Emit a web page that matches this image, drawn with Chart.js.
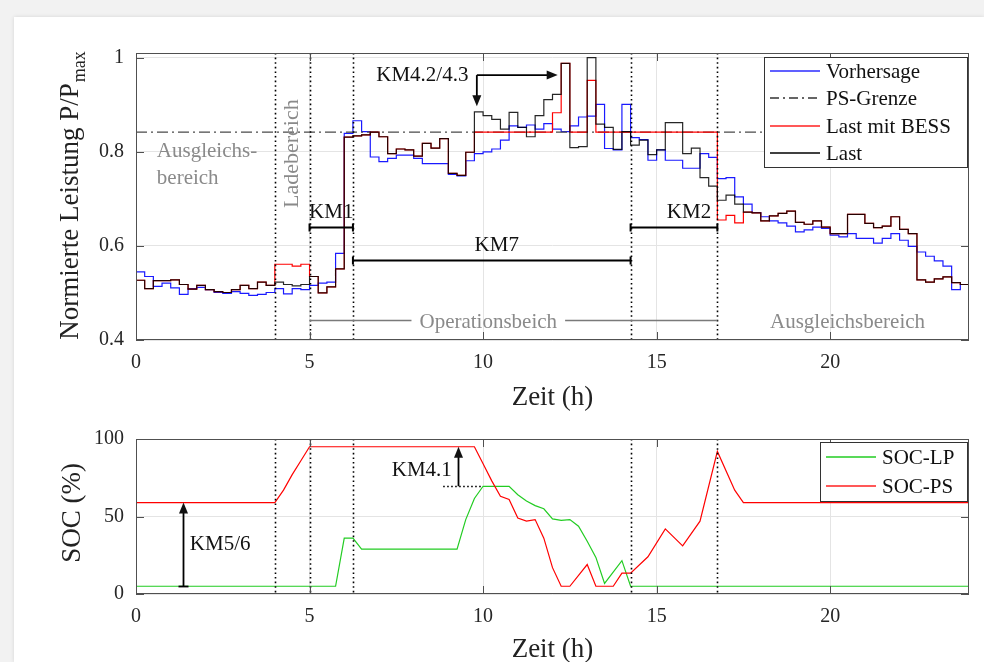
<!DOCTYPE html>
<html>
<head>
<meta charset="utf-8">
<script src="https://cdn.jsdelivr.net/npm/chart.js@4.4.1/dist/chart.umd.min.js"></script>
<style>
html, body { margin: 0; padding: 0; background: #f2f2f2; }
body { width: 984px; height: 662px; overflow: hidden; position: relative; }
#panel { position: absolute; left: 14px; top: 17px; width: 970px; height: 645px; background: #fff; box-shadow: 0 0 4px rgba(0,0,0,0.12); }
#oben { position: absolute; left: 0; top: 0; }
#unten { position: absolute; left: 0; top: 415px; }
</style>
</head>
<body>
<div id="panel"></div>
<canvas id="oben" width="984" height="415"></canvas>
<canvas id="unten" width="984" height="247"></canvas>
<script>
// Viertelstundenwerte 0..24 h (96 Werte je Reihe)
var vorhersage = [
    0.545,0.535,0.514,0.521,0.511,0.497,0.509,0.512,0.507,0.501,0.499,0.503,0.499,0.495,0.497,0.501,
    0.509,0.498,0.509,0.507,0.516,0.521,0.523,0.584,0.839,0.866,0.843,0.789,0.779,0.786,0.793,0.793,
    0.786,0.775,0.775,0.775,0.752,0.749,0.781,0.796,0.800,0.806,0.825,0.855,0.852,0.857,0.848,0.860,
    0.848,0.843,0.855,0.874,0.876,0.901,0.807,0.804,0.901,0.830,0.826,0.782,0.804,0.782,0.782,0.765,
    0.765,0.796,0.788,0.743,0.745,0.704,0.689,0.671,0.662,0.653,0.649,0.642,0.630,0.634,0.640,0.637,
    0.623,0.619,0.626,0.616,0.616,0.606,0.616,0.626,0.612,0.599,0.587,0.578,0.568,0.557,0.507,0.518
];
var last = [
    0.527,0.509,0.526,0.526,0.528,0.518,0.508,0.516,0.507,0.503,0.501,0.507,0.516,0.509,0.523,0.516,
    0.523,0.518,0.515,0.518,0.535,0.500,0.513,0.551,0.831,0.834,0.836,0.842,0.832,0.796,0.806,0.804,
    0.791,0.818,0.808,0.828,0.754,0.750,0.799,0.885,0.877,0.869,0.848,0.884,0.852,0.832,0.877,0.911,
    0.922,0.988,0.809,0.811,1.000,0.859,0.852,0.805,0.843,0.814,0.825,0.794,0.804,0.862,0.862,0.796,
    0.808,0.745,0.727,0.697,0.708,0.689,0.672,0.670,0.653,0.664,0.669,0.674,0.650,0.646,0.653,0.640,
    0.626,0.626,0.667,0.667,0.648,0.639,0.642,0.662,0.635,0.626,0.528,0.523,0.530,0.534,0.522,0.518
];
var lastMitBess = [
    0.527,0.509,0.526,0.526,0.528,0.518,0.508,0.516,0.507,0.503,0.501,0.507,0.516,0.509,0.523,0.516,
    0.561,0.561,0.557,0.561,0.535,0.500,0.513,0.551,0.831,0.834,0.836,0.842,0.832,0.796,0.806,0.804,
    0.791,0.818,0.808,0.828,0.754,0.750,0.799,0.842,0.842,0.842,0.842,0.842,0.842,0.842,0.842,0.842,
    0.883,0.988,0.842,0.842,0.952,0.842,0.842,0.842,0.842,0.842,0.842,0.842,0.842,0.842,0.842,0.842,
    0.842,0.842,0.842,0.655,0.665,0.649,0.672,0.670,0.653,0.664,0.669,0.674,0.650,0.646,0.653,0.640,
    0.626,0.626,0.667,0.667,0.648,0.639,0.642,0.662,0.635,0.626,0.528,0.523,0.530,0.534,0.522,0.518
];
var psGrenze = 0.842;

// SOC-Verlaeufe (Stuetzstellen)
var socPsZeit = [0,4,4.25,4.5,4.75,5,9.75,10,10.25,10.5,10.75,11,11.25,11.5,11.75,12,12.25,12.5,13,13.25,13.75,14,14.25,14.75,15.25,15.75,16.25,16.75,17.25,17.5,24];
var socPs     = [59,59,67,77,86,95,95,84,73,63,61,49,47,48,36,17,5,5,19,5,5,13.5,13.5,24,42,31,47,92,67,59,59];
var socLpZeit = [0,5.75,6,6.25,6.5,9.25,9.5,9.75,10,10.75,11,11.25,11.5,11.75,12,12.25,12.5,12.75,13,13.25,13.5,14,14.25,24];
var socLp     = [5,5,36,36,29,29,48,61.6,69.5,69.5,64,60,57,55,48.5,47.5,48,43.7,34,23.6,6.8,21.5,5,5];

var grenzZeiten = [4, 5, 6.25, 14.25, 16.75];
var xTicks = [0, 5, 10, 15, 20];
var yTicksOben = [0.4, 0.6, 0.8, 1];
var yTicksUnten = [0, 50, 100];

var schrift = "'Liberation Serif', 'Times New Roman', serif";

var zeit = [];
for (var i = 0; i <= vorhersage.length; i++) zeit.push(i * 0.25);

function stufen(werte) {
    return zeit.map(function(t, i) { return {x: t, y: werte[Math.min(i, werte.length - 1)]}; });
}
function punkte(xs, ys) {
    return xs.map(function(t, i) { return {x: t, y: ys[i]}; });
}

function pfeil(ctx, x1, y1, x2, y2) {
    var a = Math.atan2(y2 - y1, x2 - x1), l = 11, w = 4.5;
    ctx.beginPath(); ctx.moveTo(x1, y1); ctx.lineTo(x2 - 6 * Math.cos(a), y2 - 6 * Math.sin(a)); ctx.stroke();
    ctx.beginPath();
    ctx.moveTo(x2, y2);
    ctx.lineTo(x2 - l * Math.cos(a) + w * Math.sin(a), y2 - l * Math.sin(a) - w * Math.cos(a));
    ctx.lineTo(x2 - l * Math.cos(a) - w * Math.sin(a), y2 - l * Math.sin(a) + w * Math.cos(a));
    ctx.closePath(); ctx.fill();
}

function rahmen(chart, yTicks) {
    var ctx = chart.ctx, a = chart.chartArea, x = chart.scales.x, y = chart.scales.y;
    ctx.save();
    ctx.strokeStyle = '#505050'; ctx.lineWidth = 1;
    ctx.strokeRect(Math.round(a.left) + 0.5, Math.round(a.top) + 0.5, Math.round(a.right - a.left) - 1, Math.round(a.bottom - a.top) - 1);
    ctx.beginPath();
    xTicks.forEach(function(v) {
        var p = Math.round(x.getPixelForValue(v)) + 0.5;
        ctx.moveTo(p, a.bottom); ctx.lineTo(p, a.bottom - 8);
        ctx.moveTo(p, a.top); ctx.lineTo(p, a.top + 8);
    });
    yTicks.forEach(function(v) {
        var p = Math.round(y.getPixelForValue(v)) + 0.5;
        ctx.moveTo(a.left, p); ctx.lineTo(a.left + 8, p);
        ctx.moveTo(a.right, p); ctx.lineTo(a.right - 8, p);
    });
    ctx.stroke();
    ctx.restore();
}

function senkrechte(chart) {
    var ctx = chart.ctx, a = chart.chartArea, x = chart.scales.x;
    ctx.save();
    ctx.strokeStyle = '#000'; ctx.lineWidth = 1.6; ctx.setLineDash([1.6, 3]);
    grenzZeiten.forEach(function(t) {
        var p = Math.round(x.getPixelForValue(t)) + 0.5;
        ctx.beginPath(); ctx.moveTo(p, a.top); ctx.lineTo(p, a.bottom); ctx.stroke();
    });
    ctx.restore();
}

function legende(ctx, links, oben, breite, hoehe, eintraege) {
    ctx.save();
    ctx.fillStyle = '#fff'; ctx.fillRect(links, oben, breite, hoehe);
    ctx.strokeStyle = '#333'; ctx.lineWidth = 1;
    ctx.strokeRect(links + 0.5, oben + 0.5, breite, hoehe);
    var zeile = hoehe / eintraege.length;
    ctx.font = '21px ' + schrift; ctx.textBaseline = 'middle';
    eintraege.forEach(function(e, i) {
        var yy = Math.round(oben + zeile * (i + 0.5));
        ctx.strokeStyle = e.farbe; ctx.lineWidth = 1.3; ctx.setLineDash(e.strich || []);
        ctx.beginPath(); ctx.moveTo(links + 6, yy); ctx.lineTo(links + 56, yy); ctx.stroke();
        ctx.setLineDash([]);
        ctx.fillStyle = '#111'; ctx.fillText(e.text, links + 62, yy + 1);
    });
    ctx.restore();
}

var kmBalken = [
    {text: 'KM1', von: 5, bis: 6.25, y: 0.640, ty: 0.672, dx: 0},
    {text: 'KM7', von: 6.25, bis: 14.25, y: 0.570, ty: 0.600, dx: 5},
    {text: 'KM2', von: 14.25, bis: 16.75, y: 0.640, ty: 0.672, dx: 15}
];

var obenDeko = {
    id: 'obenDeko',
    afterDatasetsDraw: function(chart) {
        var ctx = chart.ctx, a = chart.chartArea, x = chart.scales.x, y = chart.scales.y;
        var px = function(v) { return x.getPixelForValue(v); };
        var py = function(v) { return y.getPixelForValue(v); };
        senkrechte(chart);
        ctx.save();
        ctx.font = '21px ' + schrift;
        ctx.textBaseline = 'middle';
        // KM-Balken
        ctx.strokeStyle = '#000'; ctx.fillStyle = '#111'; ctx.lineWidth = 2;
        kmBalken.forEach(function(b) {
            var x1 = px(b.von), x2 = px(b.bis), yy = Math.round(py(b.y)) + 0.5;
            ctx.beginPath();
            ctx.moveTo(x1, yy); ctx.lineTo(x2, yy);
            ctx.moveTo(x1, yy - 4); ctx.lineTo(x1, yy + 4);
            ctx.moveTo(x2, yy - 4); ctx.lineTo(x2, yy + 4);
            ctx.stroke();
            ctx.textAlign = 'center';
            ctx.fillText(b.text, (x1 + x2) / 2 + b.dx, py(b.ty));
        });
        // KM4.2/4.3
        ctx.textAlign = 'center';
        ctx.fillText('KM4.2/4.3', px(8.25), py(0.963));
        ctx.lineWidth = 1.8;
        pfeil(ctx, px(9.82), py(0.963), px(12.15), py(0.963));
        pfeil(ctx, px(9.82), py(0.963), px(9.82), py(0.897));
        // graue Bereichstexte
        ctx.fillStyle = '#8a8a8a';
        ctx.textAlign = 'left';
        ctx.fillText('Ausgleichs-', px(0.6), py(0.800));
        ctx.fillText('bereich', px(0.6), py(0.744));
        ctx.textAlign = 'center';
        ctx.fillText('Ausgleichsbereich', px(20.5), py(0.437));
        var opText = 'Operationsbeich', opX = px(10.15), opY = Math.round(py(0.442)) + 0.5;
        ctx.fillText(opText, opX, py(0.437));
        var hw = ctx.measureText(opText).width / 2 + 8;
        ctx.strokeStyle = '#7a7a7a'; ctx.lineWidth = 1.5;
        ctx.beginPath();
        ctx.moveTo(px(5), opY); ctx.lineTo(opX - hw, opY);
        ctx.moveTo(opX + hw, opY); ctx.lineTo(px(16.75), opY);
        ctx.stroke();
        ctx.save();
        ctx.translate(px(4.49), py(0.796));
        ctx.rotate(-Math.PI / 2);
        ctx.font = '22px ' + schrift;
        ctx.fillText('Ladebereich', 0, 0);
        ctx.restore();
        ctx.restore();
        rahmen(chart, yTicksOben);
        legende(ctx, a.right - 205, a.top + 4, 203, 110, [
            {text: 'Vorhersage', farbe: '#2b2bff'},
            {text: 'PS-Grenze', farbe: '#333', strich: [9, 4, 2, 4]},
            {text: 'Last mit BESS', farbe: '#ff2020'},
            {text: 'Last', farbe: '#000'}
        ]);
        // Achsentitel
        ctx.save();
        ctx.fillStyle = '#222'; ctx.textBaseline = 'middle'; ctx.textAlign = 'center';
        ctx.font = '27px ' + schrift;
        ctx.fillText('Zeit (h)', (a.left + a.right) / 2, 398);
        ctx.translate(71, 196);
        ctx.rotate(-Math.PI / 2);
        var haupt = 'Normierte Leistung P/P';
        var w1 = ctx.measureText(haupt).width;
        ctx.font = '18px ' + schrift;
        var w2 = ctx.measureText('max').width;
        ctx.textAlign = 'left';
        ctx.font = '27px ' + schrift;
        ctx.fillText(haupt, -(w1 + w2) / 2, 0);
        ctx.font = '18px ' + schrift;
        ctx.fillText('max', -(w1 + w2) / 2 + w1 + 1, 9);
        ctx.restore();
    }
};

var untenDeko = {
    id: 'untenDeko',
    afterDatasetsDraw: function(chart) {
        var ctx = chart.ctx, a = chart.chartArea, x = chart.scales.x, y = chart.scales.y;
        var px = function(v) { return x.getPixelForValue(v); };
        var py = function(v) { return y.getPixelForValue(v); };
        senkrechte(chart);
        ctx.save();
        ctx.font = '21px ' + schrift; ctx.textBaseline = 'middle';
        ctx.strokeStyle = '#000'; ctx.fillStyle = '#111'; ctx.lineWidth = 1.8;
        var xa = Math.round(px(1.35)) + 0.5;
        pfeil(ctx, xa, py(5), xa, py(59));
        ctx.beginPath(); ctx.moveTo(xa - 5, Math.round(py(5)) + 0.5); ctx.lineTo(xa + 5, Math.round(py(5)) + 0.5); ctx.stroke();
        ctx.textAlign = 'left';
        ctx.fillText('KM5/6', px(1.55), py(32));
        var xb = Math.round(px(9.27)) + 0.5;
        pfeil(ctx, xb, py(69.5), xb, py(95));
        ctx.save();
        ctx.lineWidth = 1.6; ctx.setLineDash([1.6, 2.4]);
        var yb = Math.round(py(69.5)) + 0.5;
        ctx.beginPath(); ctx.moveTo(px(8.85), yb); ctx.lineTo(px(10.0), yb); ctx.stroke();
        ctx.restore();
        ctx.textAlign = 'right';
        ctx.fillText('KM4.1', px(9.1), py(80));
        ctx.restore();
        rahmen(chart, yTicksUnten);
        legende(ctx, a.right - 149, a.top + 3, 147, 59, [
            {text: 'SOC-LP', farbe: '#22cc22'},
            {text: 'SOC-PS', farbe: '#ff2020'}
        ]);
        ctx.save();
        ctx.fillStyle = '#222'; ctx.textBaseline = 'middle'; ctx.textAlign = 'center';
        ctx.font = '27px ' + schrift;
        ctx.fillText('Zeit (h)', (a.left + a.right) / 2, 235);
        ctx.translate(73, 98);
        ctx.rotate(-Math.PI / 2);
        ctx.fillText('SOC (%)', 0, 0);
        ctx.restore();
    }
};

function achsen(yMin, yMax, yTicks, xHoehe) {
    var tickSchrift = {family: schrift, size: 20};
    return {
        x: {
            type: 'linear', min: 0, max: 24,
            afterBuildTicks: function(s) { s.ticks = xTicks.map(function(v) { return {value: v}; }); },
            ticks: {font: tickSchrift, color: '#262626', padding: 11, maxRotation: 0, autoSkip: false},
            grid: {color: '#e4e4e4', drawTicks: false},
            border: {display: false},
            afterFit: function(s) { s.height = xHoehe; }
        },
        y: {
            type: 'linear', min: yMin, max: yMax,
            afterBuildTicks: function(s) { s.ticks = yTicks.map(function(v) { return {value: v}; }); },
            ticks: {font: tickSchrift, color: '#262626', padding: 12, callback: function(v) { return String(v); }},
            grid: {color: '#e4e4e4', drawTicks: false},
            border: {display: false},
            afterFit: function(s) { s.width = 136; }
        }
    };
}

var gemeinsam = {
    responsive: false, animation: false, events: [],
    plugins: {legend: {display: false}, tooltip: {enabled: false}}
};

new Chart(document.getElementById('oben'), {
    type: 'line',
    data: {
        datasets: [
            {label: 'Vorhersage', data: stufen(vorhersage), borderColor: '#1a1aff', borderWidth: 1.2, stepped: true, pointRadius: 0, order: 3},
            {label: 'PS-Grenze', data: [{x: 0, y: psGrenze}, {x: 24, y: psGrenze}], borderColor: '#4a4a4a', borderWidth: 1.2, borderDash: [11, 4, 2, 4], pointRadius: 0, order: 2},
            {label: 'Last mit BESS', data: stufen(lastMitBess), borderColor: '#ff0000', borderWidth: 1.2, stepped: true, pointRadius: 0, order: 1},
            {label: 'Last', data: stufen(last), borderColor: 'rgba(0,0,0,0.85)', borderWidth: 1.2, stepped: true, pointRadius: 0, order: 0}
        ]
    },
    options: Object.assign({}, gemeinsam, {
        layout: {padding: {top: 53, right: 15, left: 0, bottom: 0}},
        scales: achsen(0.4, 1.01, yTicksOben, 75)
    }),
    plugins: [obenDeko]
});

new Chart(document.getElementById('unten'), {
    type: 'line',
    data: {
        datasets: [
            {label: 'SOC-LP', data: punkte(socLpZeit, socLp), borderColor: '#22cc22', borderWidth: 1.2, pointRadius: 0, order: 1},
            {label: 'SOC-PS', data: punkte(socPsZeit, socPs), borderColor: '#ff0000', borderWidth: 1.2, pointRadius: 0, order: 0}
        ]
    },
    options: Object.assign({}, gemeinsam, {
        layout: {padding: {top: 21, right: 15, left: 0, bottom: 0}},
        scales: achsen(0, 100, yTicksUnten, 68)
    }),
    plugins: [untenDeko]
});
</script>
</body>
</html>
